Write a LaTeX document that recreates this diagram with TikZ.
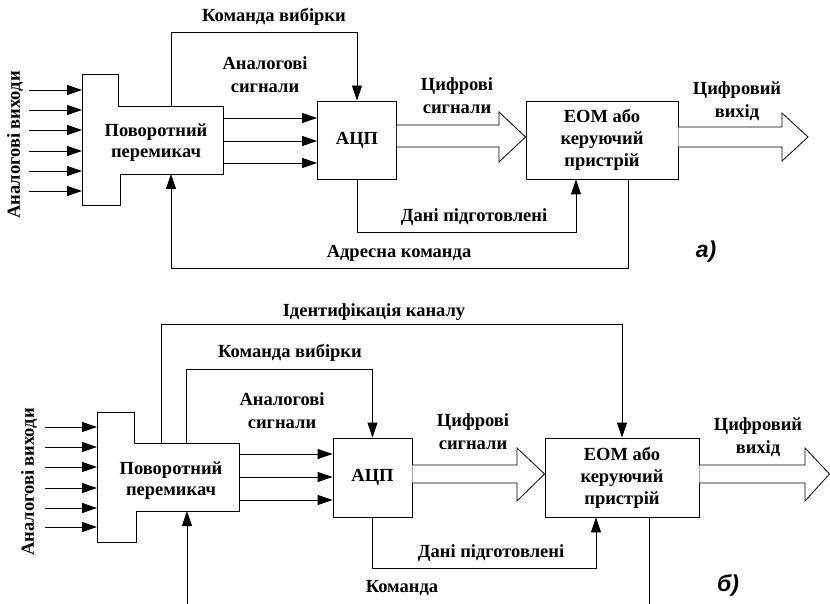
\documentclass[tikz,border=0pt]{standalone}
\usepackage{fontspec}
\setmainfont{Liberation Serif}
\newfontfamily\labsans{Liberation Sans}
\usetikzlibrary{arrows.meta,calc}
\begin{document}
\begin{tikzpicture}[x=1pt,y=-1pt,line width=0.9pt,
  lbl/.style={font=\fontsize{18.5}{23}\selectfont\bfseries,align=center,inner sep=0pt},
  blk/.style={draw,inner sep=0pt,font=\fontsize{18.5}{22}\selectfont\bfseries,align=center},
  arr/.style={-{Triangle[length=15pt,width=10pt]}},
  hollow/.style={draw,fill=white,line width=0.8pt,line join=miter},
  sw/.style={draw,line width=0.9pt},
  tag/.style={font=\labsans\fontsize{23}{26}\selectfont\bfseries\itshape,inner sep=0pt}]
\useasboundingbox (0,0) rectangle (830,604);

% ================= a) =================
\draw[sw] (82,74) -- (118,74) -- (118,106) -- (223,106) -- (223,174) -- (120,174) -- (120,205) -- (82,205) -- cycle;
\node[lbl,font=\fontsize{18.5}{21}\selectfont\bfseries] (swA) at (156,143) {Поворотний\\перемикач};
\node[lbl,rotate=90] (inA) at (15,145) {Аналогові виходи};
\foreach \y [count=\i] in {90,110,130,151,171,191}{
  \coordinate (inA\i) at (29,\y);
  \coordinate (swAin\i) at (82,\y);
  \draw[arr] (inA\i) -- (swAin\i);
}
\node[blk,minimum width=79pt,minimum height=78pt] (adcA) at (357,140) {АЦП};
\node[blk,minimum width=152pt,minimum height=78pt] (eomA) at (602,140) {ЕОМ або\\керуючий\\пристрій};
\foreach \y [count=\i] in {118,141,163}{
  \coordinate (swAout\i) at (223,\y);
  \draw[arr] (swAout\i) -- (swAout\i -| adcA.west);
}
\coordinate (swAtop) at (171,106);
\coordinate (swAbot) at (171,174);
\coordinate (cA1) at (171,32);
\draw[arr] (swAtop) -- (cA1) -| (adcA.north);
\coordinate (xA576) at (576,0);
\coordinate (xA628) at (628,0);
\coordinate (dA) at (357,232);
\draw[arr] (adcA.south) -- (dA) -| (eomA.south -| xA576);
\coordinate (aA) at (628,268);
\draw[arr] (eomA.south -| xA628) -- (aA) -| (swAbot);
\draw[hollow] (adcA.east |- 0,125) -- (499,125) -- (499,112) -- (eomA.west |- 0,137) -- (499,162) -- (499,147) -- (adcA.east |- 0,147);
\draw[hollow] (eomA.east |- 0,127) -- (782,127) -- (782,113) -- (808,137) -- (782,161) -- (782,147) -- (eomA.east |- 0,147);
\node[lbl] (lA1) at (274,17) {Команда вибірки};
\node[lbl] (lA2) at (265,74.5) {Аналогові\\сигнали};
\node[lbl] (lA3) at (457,96) {Цифрові\\сигнали};
\node[lbl] (lA4) at (737,101) {Цифровий\\вихід};
\node[lbl] (lA5) at (474,217) {Дані підготовлені};
\node[lbl] (lA6) at (399,253) {Адресна команда};
\node[tag] (tA) at (706,252) {а)};

% ================= б) =================
\draw[sw] (97,412) -- (134,412) -- (134,443) -- (239,443) -- (239,511) -- (136,511) -- (136,542) -- (97,542) -- cycle;
\node[lbl,font=\fontsize{18.5}{21}\selectfont\bfseries] (swB) at (171,481) {Поворотний\\перемикач};
\node[lbl,rotate=90] (inB) at (29,482) {Аналогові виходи};
\foreach \y [count=\i] in {427,447,467,488,508,527}{
  \coordinate (inB\i) at (45,\y);
  \coordinate (swBin\i) at (97,\y);
  \draw[arr] (inB\i) -- (swBin\i);
}
\node[blk,minimum width=79pt,minimum height=79pt] (adcB) at (372.5,477.5) {АЦП};
\node[blk,minimum width=154pt,minimum height=79pt] (eomB) at (622,477.5) {ЕОМ або\\керуючий\\пристрій};
\foreach \y [count=\i] in {454,477,500}{
  \coordinate (swBout\i) at (239,\y);
  \draw[arr] (swBout\i) -- (swBout\i -| adcB.west);
}
\coordinate (swBtop1) at (161,443);
\coordinate (swBtop2) at (186,443);
\coordinate (swBbot) at (187,511);
\coordinate (cB1) at (161,324);
\coordinate (cB2) at (186,369);
\draw[arr] (swBtop1) -- (cB1) -| (eomB.north);
\draw[arr] (swBtop2) -- (cB2) -| (adcB.north);
\coordinate (xB596) at (596,0);
\coordinate (xB649) at (649,0);
\coordinate (dB) at (372.5,568);
\draw[arr] (adcB.south) -- (dB) -| (eomB.south -| xB596);
\coordinate (kB) at (187,604);
\draw[arr] (kB) -- (swBbot);
\coordinate (oB) at (649,604);
\draw (eomB.south -| xB649) -- (oB);
\draw[hollow] (adcB.east |- 0,465) -- (517,465) -- (517,448) -- (eomB.west |- 0,474) -- (517,501) -- (517,483) -- (adcB.east |- 0,483);
\draw[hollow] (eomB.east |- 0,465) -- (805,465) -- (805,448) -- (829.5,474) -- (805,501) -- (805,483) -- (eomB.east |- 0,483);
\node[lbl] (lB0) at (374,312) {Ідентифікація каналу};
\node[lbl] (lB1) at (290,353) {Команда вибірки};
\node[lbl] (lB2) at (282,411) {Аналогові\\сигнали};
\node[lbl] (lB3) at (473,432) {Цифрові\\сигнали};
\node[lbl] (lB4) at (758,437) {Цифровий\\вихід};
\node[lbl] (lB5) at (491,553) {Дані підготовлені};
\node[lbl] (lB6) at (402,588) {Команда};
\node[tag] (tB) at (728,585) {б)};
\end{tikzpicture}
\end{document}
